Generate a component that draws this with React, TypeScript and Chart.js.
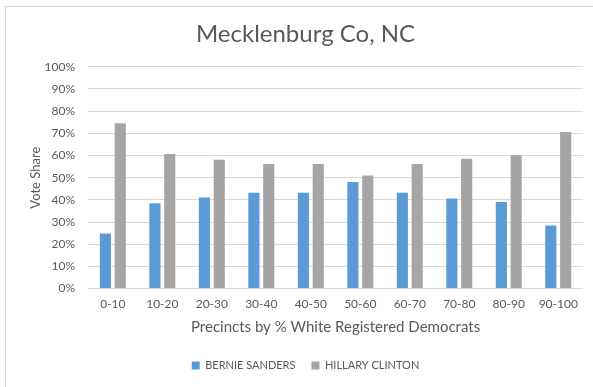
import React, { useEffect, useRef } from "react";
import { Chart, registerables } from "chart.js";

Chart.register(...registerables);

const categories = ["0-10", "10-20", "20-30", "30-40", "40-50", "50-60", "60-70", "70-80", "80-90", "90-100"];
const sandersValues = [24.8, 38.5, 41.1, 43.2, 43.2, 48.1, 43.2, 40.6, 39.1, 28.5];
const clintonValues = [74.6, 60.7, 58.1, 56.2, 56.2, 51.0, 56.2, 58.6, 60.1, 70.6];
const yTicks = [0, 10, 20, 30, 40, 50, 60, 70, 80, 90, 100];

const FONT = "Lato, 'Open Sans', sans-serif";
const TEXT = "#595959";

export default function App() {
  const ref = useRef<HTMLCanvasElement | null>(null);

  useEffect(() => {
    document.body.style.margin = "0";
    const ctx = ref.current!;
    const chart = new Chart(ctx, {
      type: "bar",
      data: {
        labels: categories,
        datasets: [
          {
            label: "BERNIE SANDERS",
            data: sandersValues,
            backgroundColor: "#5B9BD5",
            categoryPercentage: 0.6,
            barPercentage: 0.75,
          },
          {
            label: "HILLARY CLINTON",
            data: clintonValues,
            backgroundColor: "#A5A5A5",
            categoryPercentage: 0.6,
            barPercentage: 0.75,
          },
        ],
      },
      options: {
        animation: false,
        responsive: false,
        maintainAspectRatio: false,
        layout: { padding: { left: 28, right: 10, top: 12, bottom: 6 } },
        plugins: {
          title: {
            display: true,
            text: "Mecklenburg Co, NC",
            color: TEXT,
            font: { family: FONT, size: 24, weight: "normal" },
            padding: { top: 8, bottom: 18 },
          },
          legend: {
            position: "bottom",
            labels: {
              color: TEXT,
              font: { family: FONT, size: 11 },
              boxWidth: 8,
              boxHeight: 8,
              padding: 16,
            },
          },
          tooltip: { enabled: false },
        },
        scales: {
          x: {
            grid: { display: false },
            border: { display: false },
            ticks: {
              color: TEXT,
              font: { family: FONT, size: 12 },
              padding: 0,
              maxRotation: 0,
              minRotation: 0,
              autoSkip: false,
            },
            title: {
              display: true,
              text: "Precincts by % White Registered Democrats",
              color: TEXT,
              font: { family: FONT, size: 15 },
              padding: { top: 7, bottom: 8 },
            },
          },
          y: {
            min: 0,
            max: 100,
            afterBuildTicks: (axis: any) => {
              axis.ticks = yTicks.map((v) => ({ value: v }));
            },
            grid: { color: "#d9d9d9", drawTicks: false },
            border: { display: false },
            ticks: {
              color: TEXT,
              font: { family: FONT, size: 12 },
              padding: 13,
              callback: (v: any) => v + "%",
            },
            title: {
              display: true,
              text: "Vote Share",
              color: TEXT,
              font: { family: FONT, size: 13 },
              padding: { top: 0, bottom: -12 },
            },
          },
        },
      },
    });
    return () => chart.destroy();
  }, []);

  return (
    <div style={{ position: "relative", width: 593, height: 387, background: "#fff" }}>
      <div
        style={{
          position: "absolute",
          left: 5,
          top: 6,
          right: 0,
          bottom: 0,
          borderLeft: "1px solid #d9d9d9",
          borderTop: "1px solid #d9d9d9",
        }}
      />
      <canvas ref={ref} width={593} height={387} style={{ position: "absolute", left: 0, top: 0 }} />
    </div>
  );
}
